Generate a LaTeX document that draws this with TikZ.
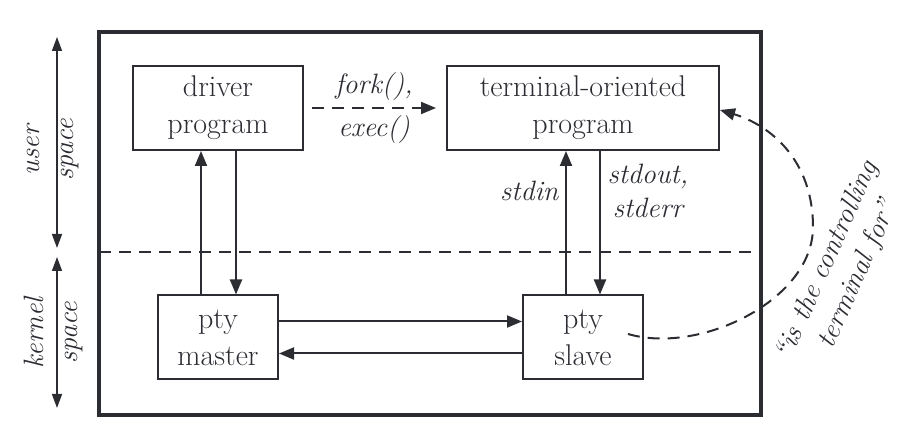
\documentclass[tikz,border=0pt]{standalone}
\usetikzlibrary{arrows.meta}
\definecolor{ink}{HTML}{2B2D33}
\begin{document}
\begin{tikzpicture}[x=0.5pt,y=-0.5pt,
		every node/.style={text=ink,font=\fontsize{15}{18.5}\selectfont},
		boxnode/.style={draw=ink,line width=1pt,inner sep=0pt,align=center,minimum height=42pt},
		flow/.style={draw=ink,line width=1pt,-{Triangle[length=7.5pt,width=6pt]}},
		side/.style={draw=ink,line width=0.7pt,{Triangle[length=7pt,width=5pt]}-{Triangle[length=7pt,width=5pt]}},
		tag/.style={font=\fontsize{14}{17}\selectfont\itshape,align=center},
		gap/.style={dash pattern=on 6pt off 4pt}]
		\useasboundingbox (0,0) rectangle (907,437);
		\draw[ink,line width=1.75pt] (99,32) rectangle (761,415);
		\coordinate (fl) at (99,252);
		\coordinate (fr) at (761,252);
		\draw[ink,line width=1pt,gap] (fl) -- (fr);

		\coordinate (u1) at (57,37);
		\coordinate (u2) at (57,248);
		\coordinate (k1) at (57,257);
		\coordinate (k2) at (57,408);
		\draw[side] (u1) -- (u2);
		\draw[side] (k1) -- (k2);
		\node[tag,rotate=90] (user) at (53,150) {user\\space};
		\node[tag,rotate=90] (kernel) at (53,333) {kernel\\space};

		\node[boxnode,minimum width=85pt] (driver) at (218,108) {driver\\program};
		\node[boxnode,minimum width=136pt] (term) at (583,108) {terminal-oriented\\program};
		\node[boxnode,minimum width=60pt] (master) at (218,337.5) {pty\\master};
		\node[boxnode,minimum width=60pt] (slave) at (583,337.5) {pty\\slave};

		\draw[flow] ([xshift=-8.5pt]master.north) -- ([xshift=-8.5pt]driver.south);
		\draw[flow] ([xshift=9pt]driver.south) -- ([xshift=9pt]master.north);
		\draw[flow] ([xshift=-8.5pt]slave.north) -- node[tag,left,pos=0.72] (stdin) {stdin} ([xshift=-8.5pt]term.south);
		\draw[flow] ([xshift=8.5pt]term.south) -- node[tag,right,pos=0.28] (stdout) {stdout,\\stderr} ([xshift=8.5pt]slave.north);
		\draw[flow] ([yshift=8pt]master.east) -- ([yshift=8pt]slave.west);
		\draw[flow] ([yshift=-8pt]slave.west) -- ([yshift=-8pt]master.east);

		\draw[flow,gap] ([xshift=4pt]driver.east) -- node[tag,above] (fork) {fork(),} node[tag,below] (exec) {exec()} ([xshift=-5pt]term.west);

		\coordinate (c0) at (628,334);
		\coordinate (c1) at (813,227);
		\draw[flow,gap] (c0) .. controls (700,355) and (813,300) .. (c1) .. controls (813,160) and (770,125) .. ([yshift=-1pt]term.east);
		\node[tag,rotate=66] (ctrl) at (843,268) {``is the controlling\\terminal for''};
	\end{tikzpicture}
\end{document}
